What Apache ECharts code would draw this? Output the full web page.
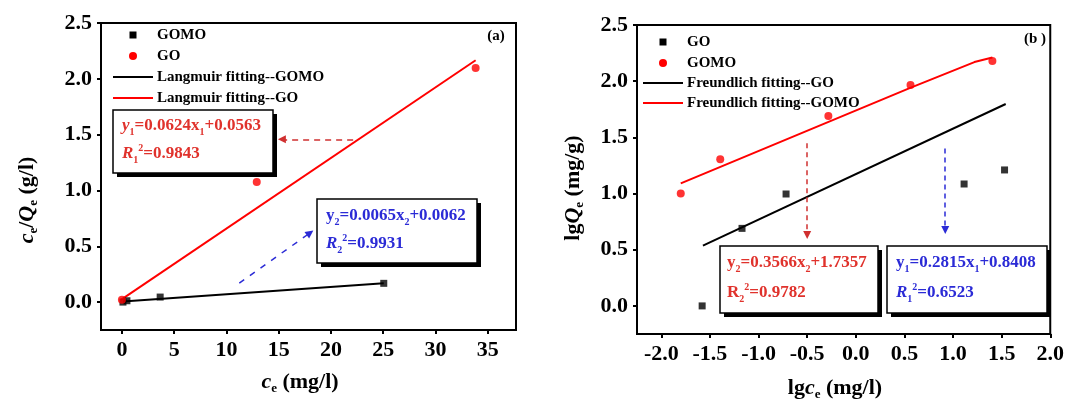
<!DOCTYPE html>
<html>
<head>
<meta charset="utf-8">
<script src="https://cdn.jsdelivr.net/npm/echarts@6/dist/echarts.min.js"></script>
<style>
html,body{margin:0;padding:0;background:#fff;}
#c{width:1067px;height:402px;}
</style>
</head>
<body>
<div id="c"></div>
<script>
// ---------- data ----------
const xTicksA = [0, 5, 10, 15, 20, 25, 30, 35];
const yTicks = [0, 0.5, 1, 1.5, 2, 2.5];
const xTicksB = [-2, -1.5, -1, -0.5, 0, 0.5, 1, 1.5, 2];

// (a) Langmuir
const legendA = ['GOMO', 'GO', 'Langmuir fitting--GOMO', 'Langmuir fitting--GO'];
const langGOMO_x = [0.1, 0.48, 3.66, 25.05];
const langGOMO_y = [0.0, 0.012, 0.045, 0.168];
const langGO_x = [0.0, 12.9, 33.84];
const langGO_y = [0.02, 1.075, 2.097];
const fitLangGOMO_x = [0.1, 25.05];
const fitLangGOMO_y = [0.005, 0.168];
const fitLangGO_x = [-0.1, 33.84];
const fitLangGO_y = [0.02, 2.166];
const arrowA_red = [[22.12, 1.458], [15.3, 1.458]];
const arrowA_blue = [[11.23, 0.17], [18.0, 0.62]];

// (b) Freundlich
const legendB = ['GO', 'GOMO', 'Freundlich fitting--GO', 'Freundlich fitting--GOMO'];
const frGO_x = [-1.58, -1.17, -0.717, 1.114, 1.53];
const frGO_y = [0.0, 0.69, 0.996, 1.085, 1.21];
const frGOMO_x = [-1.80, -1.394, -0.282, 0.563, 1.405];
const frGOMO_y = [1.0, 1.305, 1.69, 1.966, 2.18];
const fitFrGO_x = [-1.572, 1.542];
const fitFrGO_y = [0.537, 1.797];
const fitFrGOMO_x = [-1.80, 0.56, 1.22, 1.405];
const fitFrGOMO_y = [1.09, 1.94, 2.17, 2.21];
const arrowB_red = [[-0.5, 1.447], [-0.5, 0.63]];
const arrowB_blue = [[0.92, 1.40], [0.92, 0.675]];

// ---------- helpers ----------
const zip = (xs, ys) => xs.map((x, i) => [x, ys[i]]);
const FF = '"Liberation Serif","Times New Roman",serif';
const RED = '#ff0000';
const TRED = '#e0322c';
const TBLUE = '#2b2bd6';

function axisCommon(ticks, fmt) {
  return {
    type: 'value',
    splitLine: {show: false},
    axisLine: {show: true, onZero: false, lineStyle: {color: '#000', width: 2}},
    axisTick: {show: true, inside: false, length: 4, customValues: ticks, lineStyle: {color: '#000', width: 2}},
    axisLabel: {customValues: ticks, formatter: fmt, color: '#000', fontFamily: FF, fontWeight: 'bold', fontSize: 22, margin: 9}
  };
}

function richBase(color) {
  return {
    n: {fontFamily: FF, fontWeight: 'bold', fontSize: 17, fill: color, lineHeight: 22},
    i: {fontFamily: FF, fontWeight: 'bold', fontStyle: 'italic', fontSize: 17, fill: color, lineHeight: 22},
    sb: {fontFamily: FF, fontWeight: 'bold', fontSize: 10, fill: color, lineHeight: 10, verticalAlign: 'bottom'},
    sp: {fontFamily: FF, fontWeight: 'bold', fontSize: 10, fill: color, lineHeight: 10, verticalAlign: 'top'}
  };
}

function box(x, y, w, h, lines, color) {
  const els = [
    {type: 'rect', shape: {x: x + 4, y: y + 4, width: w, height: h}, style: {fill: '#000'}, z: 100},
    {type: 'rect', shape: {x: x, y: y, width: w, height: h}, style: {fill: '#fff', stroke: '#000', lineWidth: 1.5}, z: 101}
  ];
  lines.forEach(l => {
    els.push({type: 'text', x: l[0], y: l[1], z: 102,
      style: {text: l[2], rich: richBase(color), fill: color, verticalAlign: 'middle', align: 'left'}});
  });
  return els;
}

const titleRich = {
  n: {fontFamily: FF, fontWeight: 'bold', fontSize: 22, fill: '#000', lineHeight: 26},
  i: {fontFamily: FF, fontWeight: 'bold', fontStyle: 'italic', fontSize: 22, fill: '#000', lineHeight: 26},
  s: {fontFamily: FF, fontWeight: 'bold', fontSize: 13, fill: '#000', lineHeight: 12, verticalAlign: 'bottom'}
};
function title(x, y, text, rot) {
  return {type: 'text', x: x, y: y, rotation: rot || 0, z: 50,
    style: {text: text, rich: titleRich, align: 'center', verticalAlign: 'middle'}};
}

// legend drawn as annotation graphics: [square, circle, black line, red line]
function legend(x0, ys, names, colors) {
  const [c1, c2, c3, c4] = colors;
  const cx = x0 + 20;
  const els = [
    {type: 'rect', shape: {x: cx - 3.5, y: ys[0] - 3.5, width: 7, height: 7}, style: {fill: c1}, z: 60},
    {type: 'circle', shape: {cx: cx, cy: ys[1], r: 4}, style: {fill: c2}, z: 60},
    {type: 'line', shape: {x1: x0, y1: ys[2], x2: x0 + 40, y2: ys[2]}, style: {stroke: c3, lineWidth: 2}, z: 60},
    {type: 'line', shape: {x1: x0, y1: ys[3], x2: x0 + 40, y2: ys[3]}, style: {stroke: c4, lineWidth: 2}, z: 60}
  ];
  names.forEach((n, k) => {
    els.push({type: 'text', x: x0 + 44, y: ys[k], z: 60,
      style: {text: n, font: 'bold 15px ' + FF, fill: '#000', align: 'left', verticalAlign: 'middle'}});
  });
  return els;
}

const chart = echarts.init(document.getElementById('c'), null, {renderer: 'canvas'});

const option = {
  animation: false,
  backgroundColor: '#fff',
  grid: [
    {left: 101, top: 23, width: 415, height: 307, show: true, borderColor: '#000', borderWidth: 2, backgroundColor: 'transparent'},
    {left: 637, top: 25, width: 414, height: 309, show: true, borderColor: '#000', borderWidth: 2, backgroundColor: 'transparent'}
  ],
  xAxis: [
    Object.assign(axisCommon(xTicksA, v => String(v)), {gridIndex: 0, min: -2, max: 37.7}),
    Object.assign(axisCommon(xTicksB, v => v.toFixed(1)), {gridIndex: 1, min: -2.25, max: 2.0})
  ],
  yAxis: [
    Object.assign(axisCommon(yTicks, v => v.toFixed(1)), {gridIndex: 0, min: -0.25, max: 2.5}),
    Object.assign(axisCommon(yTicks, v => v.toFixed(1)), {gridIndex: 1, min: -0.25, max: 2.5})
  ],
  series: [
    {name: legendA[0], type: 'scatter', xAxisIndex: 0, yAxisIndex: 0, symbol: 'rect', symbolSize: 7,
      itemStyle: {color: '#000'}, data: zip(langGOMO_x, langGOMO_y), z: 5},
    {name: legendA[1], type: 'scatter', xAxisIndex: 0, yAxisIndex: 0, symbol: 'circle', symbolSize: 8,
      itemStyle: {color: RED}, data: zip(langGO_x, langGO_y), z: 5},
    {name: legendA[2], type: 'line', xAxisIndex: 0, yAxisIndex: 0, symbol: 'none',
      lineStyle: {color: '#000', width: 2}, itemStyle: {color: '#000'}, data: zip(fitLangGOMO_x, fitLangGOMO_y),
      markLine: {silent: true, symbol: ['none', 'triangle'], symbolSize: 8, label: {show: false},
        lineStyle: {color: TBLUE, width: 1.5, type: [6, 7]}, itemStyle: {color: TBLUE},
        data: [[{coord: arrowA_blue[0]}, {coord: arrowA_blue[1]}]]}},
    {name: legendA[3], type: 'line', xAxisIndex: 0, yAxisIndex: 0, symbol: 'none',
      lineStyle: {color: RED, width: 2}, itemStyle: {color: RED}, data: zip(fitLangGO_x, fitLangGO_y),
      markLine: {silent: true, symbol: ['none', 'triangle'], symbolSize: 8, label: {show: false},
        lineStyle: {color: '#d03030', width: 1.5, type: [6, 5]}, itemStyle: {color: '#d03030'},
        data: [[{coord: arrowA_red[0]}, {coord: arrowA_red[1]}]]}},

    {name: legendB[0] + ' ', type: 'scatter', xAxisIndex: 1, yAxisIndex: 1, symbol: 'rect', symbolSize: 7,
      itemStyle: {color: '#000'}, data: zip(frGO_x, frGO_y), z: 5},
    {name: legendB[1] + ' ', type: 'scatter', xAxisIndex: 1, yAxisIndex: 1, symbol: 'circle', symbolSize: 8,
      itemStyle: {color: RED}, data: zip(frGOMO_x, frGOMO_y), z: 5},
    {name: legendB[2], type: 'line', xAxisIndex: 1, yAxisIndex: 1, symbol: 'none',
      lineStyle: {color: '#000', width: 2}, itemStyle: {color: '#000'}, data: zip(fitFrGO_x, fitFrGO_y),
      markLine: {silent: true, symbol: ['none', 'triangle'], symbolSize: 8, label: {show: false},
        lineStyle: {color: TBLUE, width: 1.5, type: [5, 4]}, itemStyle: {color: TBLUE},
        data: [[{coord: arrowB_blue[0]}, {coord: arrowB_blue[1]}]]}},
    {name: legendB[3], type: 'line', xAxisIndex: 1, yAxisIndex: 1, symbol: 'none',
      lineStyle: {color: RED, width: 2}, itemStyle: {color: RED}, data: zip(fitFrGOMO_x, fitFrGOMO_y),
      markLine: {silent: true, symbol: ['none', 'triangle'], symbolSize: 8, label: {show: false},
        lineStyle: {color: '#d03030', width: 1.5, type: [5, 4]}, itemStyle: {color: '#d03030'},
        data: [[{coord: arrowB_red[0]}, {coord: arrowB_red[1]}]]}}
  ],
  graphic: [].concat(
    legend(113, [35, 56, 77, 98], legendA, ['#000', RED, '#000', RED]),
    legend(643, [42, 63, 83, 103], legendB, ['#000', RED, '#000', RED]),
    box(113, 110, 160, 63, [
      [122, 126, '{i|y}{sb|1}{n|=0.0624x}{sb|1}{n|+0.0563}'],
      [122, 154, '{i|R}{sb|1}{sp|2}{n|=0.9843}']
    ], TRED),
    box(317, 199, 160, 64, [
      [326, 216, '{n|y}{sb|2}{n|=0.0065x}{sb|2}{n|+0.0062}'],
      [326, 244, '{i|R}{sb|2}{sp|2}{n|=0.9931}']
    ], TBLUE),
    box(720, 246, 158, 67, [
      [727, 263, '{n|y}{sb|2}{n|=0.3566x}{sb|2}{n|+1.7357}'],
      [727, 293, '{n|R}{sb|2}{sp|2}{n|=0.9782}']
    ], TRED),
    box(887, 246, 160, 67, [
      [896, 263, '{n|y}{sb|1}{n|=0.2815x}{sb|1}{n|+0.8408}'],
      [896, 293, '{i|R}{sb|1}{sp|2}{n|=0.6523}']
    ], TBLUE),
    [
      {type: 'text', x: 496, y: 36, z: 50, style: {text: '(a)', font: 'bold 15px ' + FF, fill: '#000', align: 'center', verticalAlign: 'middle'}},
      {type: 'text', x: 1035, y: 39, z: 50, style: {text: '(b )', font: 'bold 15px ' + FF, fill: '#000', align: 'center', verticalAlign: 'middle'}},
      title(300, 382, '{i|c}{s|e}{n| (mg/l)}'),
      title(27, 200, '{i|c}{s|e}{n|/}{i|Q}{s|e}{n| (g/l)}', Math.PI / 2),
      title(835, 388, '{n|lg}{i|c}{s|e}{n| (mg/l)}'),
      title(573, 188, '{n|lg}{i|Q}{s|e}{n| (mg/g)}', Math.PI / 2)
    ]
  )
};
chart.setOption(option);
</script>
</body>
</html>
